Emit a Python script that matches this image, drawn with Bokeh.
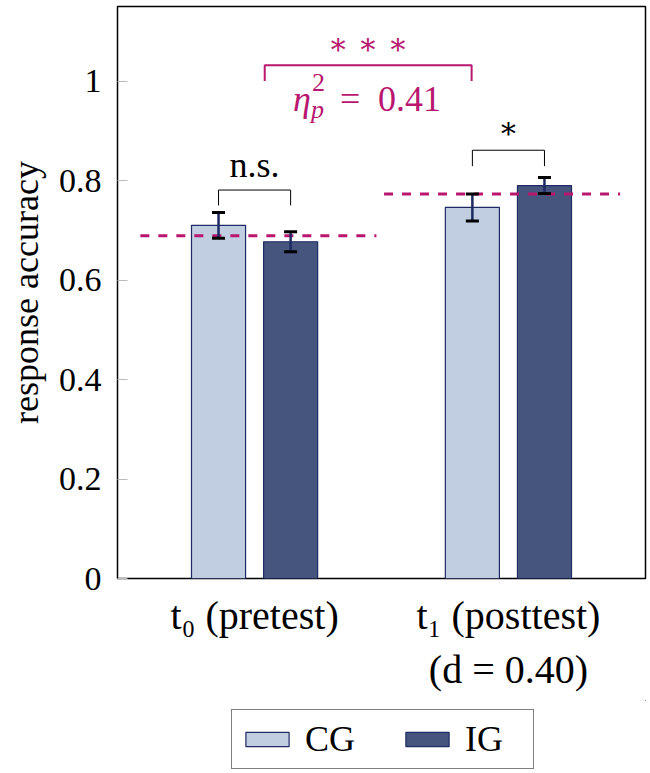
from bokeh.plotting import figure
from bokeh.layouts import column
from bokeh.models import (ColumnDataSource, FixedTicker, Legend, LegendItem,
                          Range1d, TeeHead, Whisker)
from bokeh.core.properties import value
from bokeh.embed import file_html
from bokeh.resources import INLINE

# group positions on the x axis and their labels
groups = [0, 1]
group_labels = ["t₀ (pretest)", "t₁ (posttest)\n(d = 0.40)"]

# mean response accuracy per group and its error
cg_mean = [0.710, 0.746]
ig_mean = [0.677, 0.790]
cg_err = [0.026, 0.027]
ig_err = [0.020, 0.016]

# overall mean per time point (dashed lines)
time_mean = [0.689, 0.773]

y_ticks = [0, 0.2, 0.4, 0.6, 0.8, 1]
y_tick_labels = ["0", "0.2", "0.4", "0.6", "0.8", "1"]

SERIF = "Liberation Serif"
MAGENTA = "#b9166f"
NAVY = "#1e2a63"
CG_FILL = "#c1cde0"
IG_FILL = "#45557e"

shift = 0.142
bar_w = 0.213

p = figure(width=648, height=700, x_range=Range1d(-0.54, 1.54), y_range=Range1d(0, 1.15),
           output_backend="svg", toolbar_location=None,
           min_border_left=117, min_border_right=3, min_border_top=6, min_border_bottom=122)
p.grid.visible = False
p.outline_line_color = "black"
p.outline_line_width = 1.5

# axes
p.yaxis.ticker = FixedTicker(ticks=y_ticks)
p.yaxis.major_label_overrides = dict(zip(y_ticks, y_tick_labels))
p.yaxis.major_tick_in = 10
p.yaxis.major_tick_out = 0
p.yaxis.major_tick_line_color = "#bbbbbb"
p.yaxis.minor_tick_line_color = None
p.yaxis.axis_line_color = None
p.yaxis.major_label_text_font = SERIF
p.yaxis.major_label_text_font_size = "34px"
p.yaxis.major_label_text_color = "black"
p.yaxis.major_label_standoff = 16
p.yaxis.axis_label = "response accuracy"
p.yaxis.axis_label_text_font = SERIF
p.yaxis.axis_label_text_font_size = "36px"
p.yaxis.axis_label_text_font_style = "normal"
p.yaxis.axis_label_text_color = "black"
p.yaxis.axis_label_standoff = 10

p.xaxis.ticker = FixedTicker(ticks=groups)
p.xaxis.major_label_overrides = dict(zip(groups, group_labels))
p.xaxis.major_tick_line_color = None
p.xaxis.minor_tick_line_color = None
p.xaxis.axis_line_color = None
p.xaxis.major_label_text_font = SERIF
p.xaxis.major_label_text_font_size = "40px"
p.xaxis.major_label_text_color = "black"
p.xaxis.major_label_text_line_height = 1.2
p.xaxis.major_label_standoff = 8

# bars
cg_x = [g - shift for g in groups]
ig_x = [g + shift for g in groups]
p.vbar(x=cg_x, top=cg_mean, width=bar_w, fill_color=CG_FILL, line_color=NAVY, line_width=1.2)
p.vbar(x=ig_x, top=ig_mean, width=bar_w, fill_color=IG_FILL, line_color=NAVY, line_width=1.2)

# dashed mean lines
p.segment(x0=[-0.45, 0.51], x1=[0.48, 1.44], y0=time_mean, y1=time_mean,
          line_color=MAGENTA, line_width=3, line_dash="9 9")

# error bars
err_src = ColumnDataSource(dict(
    base=cg_x + ig_x,
    upper=[m + e for m, e in zip(cg_mean + ig_mean, cg_err + ig_err)],
    lower=[m - e for m, e in zip(cg_mean + ig_mean, cg_err + ig_err)],
))
whisker = Whisker(base="base", upper="upper", lower="lower", source=err_src, level="overlay",
                  line_color=NAVY, line_width=2.5,
                  upper_head=TeeHead(size=13, line_color="black", line_width=3),
                  lower_head=TeeHead(size=13, line_color="black", line_width=3))
p.add_layout(whisker)

# significance brackets
p.multi_line(xs=[[-shift, -shift, shift, shift], [1 - shift, 1 - shift, 1 + shift, 1 + shift]],
             ys=[[0.750, 0.781, 0.781, 0.750], [0.829, 0.861, 0.861, 0.829]],
             line_color="black", line_width=1)
p.line(x=[0.04, 0.04, 0.855, 0.855], y=[1.0, 1.032, 1.032, 1.0], line_color=MAGENTA, line_width=2)

p.text(x=[0], y=[0.807], text=["n.s."], y_offset=-12, text_font=value(SERIF), text_font_size="36px",
       text_align="center", text_baseline="alphabetic", text_color="black")
p.text(x=[1], y=[0.906], text=["∗"], text_font=value("DejaVu Serif"), text_font_size="30px",
       text_align="center", text_baseline="middle", text_color="black")
p.text(x=[0.447], y=[1.075], text=["∗ ∗ ∗"], text_font=value("DejaVu Serif"), text_font_size="30px",
       text_align="center", text_baseline="middle", text_color=MAGENTA)

# partial eta squared label
ex, ey = [0.443], [0.939]
p.text(x=ex, y=ey, text=["η"], x_offset=-74, y_offset=-12, text_font=value(SERIF), text_font_style="italic",
       text_font_size="36px", text_align="left", text_baseline="alphabetic", text_color=MAGENTA)
p.text(x=ex, y=ey, text=["2"], x_offset=-55, y_offset=-29, text_font=value(SERIF),
       text_font_size="26px", text_align="left", text_baseline="alphabetic", text_color=MAGENTA)
p.text(x=ex, y=ey, text=["p"], x_offset=-56, y_offset=-2, text_font=value(SERIF), text_font_style="italic",
       text_font_size="26px", text_align="left", text_baseline="alphabetic", text_color=MAGENTA)
p.text(x=ex, y=ey, text=["="], x_offset=-27, y_offset=-12, text_font=value(SERIF),
       text_font_size="36px", text_align="left", text_baseline="alphabetic", text_color=MAGENTA)
p.text(x=ex, y=ey, text=["0.41"], x_offset=11, y_offset=-12, text_font=value(SERIF),
       text_font_size="36px", text_align="left", text_baseline="alphabetic", text_color=MAGENTA)

# legend in its own strip below the chart (frame is aligned with the chart above)
leg = figure(width=648, height=72, x_range=Range1d(0, 1), y_range=Range1d(0, 1),
             output_backend="svg", toolbar_location=None, x_axis_type=None, y_axis_type=None,
             min_border=0, outline_line_color=None)
leg.grid.visible = False
# swatch renderers sit outside the visible range; they only feed the legend
r_cg = leg.vbar(x=[5], top=[5], bottom=[4], width=bar_w, fill_color=CG_FILL, line_color=NAVY, line_width=1.2)
r_ig = leg.vbar(x=[5], top=[5], bottom=[4], width=bar_w, fill_color=IG_FILL, line_color=NAVY, line_width=1.2)
legend = Legend(items=[LegendItem(label="CG", renderers=[r_cg]), LegendItem(label="IG", renderers=[r_ig])],
                orientation="horizontal", location=(114, 3),
                label_text_font=SERIF, label_text_font_size="36px", label_text_color="black",
                glyph_width=54, glyph_height=18, label_standoff=11, label_width=60,
                spacing=35, padding=8, margin=0,
                border_line_color="black", border_line_width=1.5, background_fill_alpha=1)
leg.add_layout(legend)

open("out.html", "w").write(file_html(column(p, leg), INLINE))
